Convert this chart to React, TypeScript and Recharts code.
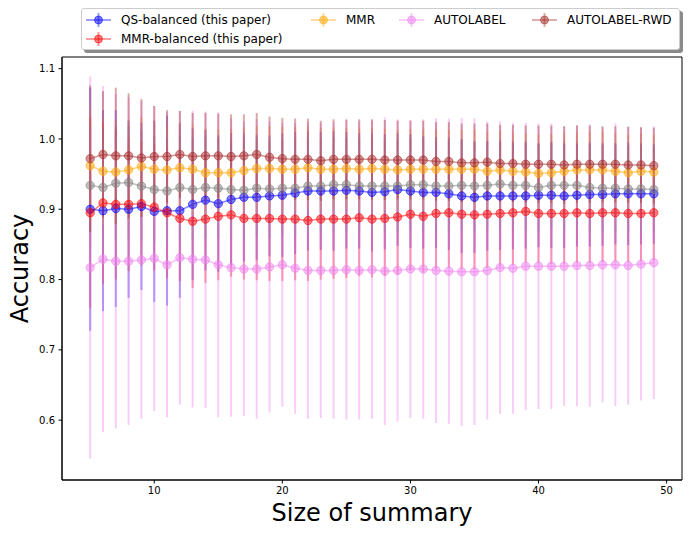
import React from "react";
import { LineChart, Line, XAxis, YAxis, ErrorBar, ReferenceArea, Label } from "recharts";

// summary sizes on the x axis
const sizes = [5, 6, 7, 8, 9, 10, 11, 12, 13, 14, 15, 16, 17, 18, 19, 20, 21, 22, 23, 24, 25, 26, 27, 28, 29, 30, 31, 32, 33, 34, 35, 36, 37, 38, 39, 40, 41, 42, 43, 44, 45, 46, 47, 48, 49];

const qsBalanced = [0.900, 0.898, 0.901, 0.900, 0.904, 0.897, 0.898, 0.898, 0.907, 0.913, 0.908, 0.914, 0.917, 0.917, 0.919, 0.920, 0.923, 0.926, 0.926, 0.926, 0.927, 0.926, 0.924, 0.925, 0.928, 0.926, 0.924, 0.924, 0.922, 0.919, 0.917, 0.919, 0.919, 0.919, 0.919, 0.920, 0.920, 0.919, 0.920, 0.921, 0.921, 0.922, 0.922, 0.922, 0.922];
const qsBalancedErr = [0.173, 0.143, 0.140, 0.126, 0.119, 0.129, 0.135, 0.124, 0.108, 0.100, 0.097, 0.094, 0.091, 0.089, 0.086, 0.088, 0.087, 0.085, 0.084, 0.085, 0.083, 0.082, 0.084, 0.082, 0.080, 0.081, 0.080, 0.079, 0.080, 0.081, 0.079, 0.078, 0.077, 0.076, 0.075, 0.074, 0.075, 0.074, 0.073, 0.074, 0.073, 0.072, 0.073, 0.072, 0.071];

const mmrBalanced = [0.895, 0.909, 0.907, 0.907, 0.908, 0.903, 0.895, 0.887, 0.883, 0.886, 0.890, 0.892, 0.887, 0.887, 0.887, 0.886, 0.886, 0.884, 0.886, 0.886, 0.886, 0.888, 0.886, 0.887, 0.889, 0.893, 0.890, 0.894, 0.895, 0.893, 0.892, 0.893, 0.894, 0.895, 0.897, 0.894, 0.894, 0.894, 0.895, 0.894, 0.895, 0.895, 0.894, 0.894, 0.895];
const mmrBalancedErr = [0.136, 0.115, 0.107, 0.095, 0.088, 0.090, 0.093, 0.089, 0.095, 0.091, 0.091, 0.088, 0.087, 0.088, 0.089, 0.088, 0.087, 0.086, 0.086, 0.085, 0.084, 0.083, 0.083, 0.082, 0.081, 0.080, 0.080, 0.079, 0.078, 0.078, 0.077, 0.076, 0.075, 0.074, 0.073, 0.071, 0.072, 0.071, 0.071, 0.070, 0.070, 0.069, 0.069, 0.068, 0.068];

const mmr = [0.962, 0.954, 0.953, 0.956, 0.961, 0.957, 0.956, 0.959, 0.957, 0.952, 0.952, 0.952, 0.955, 0.958, 0.958, 0.957, 0.957, 0.959, 0.957, 0.957, 0.958, 0.957, 0.958, 0.957, 0.956, 0.957, 0.957, 0.957, 0.957, 0.957, 0.957, 0.954, 0.956, 0.954, 0.953, 0.951, 0.952, 0.954, 0.956, 0.956, 0.956, 0.954, 0.952, 0.954, 0.953];
const mmrErr = [0.080, 0.076, 0.074, 0.072, 0.070, 0.068, 0.066, 0.065, 0.064, 0.063, 0.062, 0.062, 0.061, 0.061, 0.060, 0.060, 0.060, 0.059, 0.059, 0.059, 0.058, 0.058, 0.058, 0.058, 0.057, 0.057, 0.057, 0.057, 0.056, 0.056, 0.056, 0.056, 0.056, 0.055, 0.055, 0.055, 0.055, 0.055, 0.054, 0.054, 0.054, 0.054, 0.054, 0.054, 0.053];

const unlabelled = [0.934, 0.931, 0.937, 0.938, 0.933, 0.928, 0.926, 0.931, 0.928, 0.931, 0.930, 0.928, 0.927, 0.930, 0.929, 0.930, 0.930, 0.933, 0.933, 0.935, 0.935, 0.933, 0.933, 0.933, 0.933, 0.935, 0.935, 0.933, 0.933, 0.934, 0.933, 0.934, 0.936, 0.934, 0.934, 0.931, 0.934, 0.934, 0.934, 0.931, 0.930, 0.930, 0.929, 0.929, 0.928];
const unlabelledErr = [0.090, 0.085, 0.082, 0.080, 0.078, 0.076, 0.075, 0.074, 0.073, 0.072, 0.071, 0.070, 0.070, 0.069, 0.069, 0.068, 0.068, 0.067, 0.067, 0.067, 0.066, 0.066, 0.066, 0.065, 0.065, 0.065, 0.065, 0.064, 0.064, 0.064, 0.064, 0.063, 0.063, 0.063, 0.063, 0.062, 0.062, 0.062, 0.062, 0.062, 0.061, 0.061, 0.061, 0.061, 0.060];

const autolabel = [0.817, 0.829, 0.826, 0.826, 0.828, 0.830, 0.821, 0.831, 0.829, 0.828, 0.821, 0.817, 0.815, 0.815, 0.818, 0.821, 0.816, 0.813, 0.813, 0.813, 0.814, 0.813, 0.814, 0.812, 0.813, 0.815, 0.815, 0.813, 0.812, 0.811, 0.811, 0.813, 0.817, 0.816, 0.819, 0.819, 0.819, 0.819, 0.820, 0.820, 0.821, 0.821, 0.820, 0.822, 0.824];
const autolabelErr = [0.272, 0.246, 0.238, 0.233, 0.226, 0.217, 0.217, 0.209, 0.211, 0.211, 0.217, 0.212, 0.209, 0.213, 0.207, 0.202, 0.207, 0.211, 0.210, 0.211, 0.213, 0.212, 0.212, 0.219, 0.215, 0.212, 0.213, 0.217, 0.217, 0.219, 0.218, 0.212, 0.208, 0.207, 0.204, 0.203, 0.203, 0.199, 0.200, 0.201, 0.196, 0.201, 0.198, 0.194, 0.194];

const autolabelRwd = [0.972, 0.978, 0.976, 0.976, 0.973, 0.975, 0.975, 0.978, 0.975, 0.976, 0.976, 0.975, 0.976, 0.978, 0.974, 0.972, 0.971, 0.971, 0.969, 0.971, 0.971, 0.971, 0.971, 0.970, 0.970, 0.970, 0.970, 0.968, 0.968, 0.966, 0.966, 0.967, 0.965, 0.965, 0.964, 0.964, 0.964, 0.963, 0.964, 0.964, 0.964, 0.964, 0.963, 0.963, 0.962];
const autolabelRwdErr = [0.104, 0.090, 0.097, 0.089, 0.084, 0.072, 0.066, 0.062, 0.062, 0.061, 0.060, 0.060, 0.059, 0.059, 0.058, 0.058, 0.058, 0.058, 0.057, 0.057, 0.057, 0.057, 0.057, 0.057, 0.056, 0.056, 0.056, 0.056, 0.056, 0.056, 0.056, 0.055, 0.055, 0.055, 0.055, 0.055, 0.055, 0.055, 0.055, 0.055, 0.054, 0.054, 0.054, 0.054, 0.054];

const xTicks = [10, 20, 30, 40, 50];
const yTicks = [0.6, 0.7, 0.8, 0.9, 1.0, 1.1];

// drawing order follows the original plot calls
const series = [
  { key: "qs", name: "QS-balanced (this paper)", color: "#0000ff", rgb: "0,0,255", values: qsBalanced, errors: qsBalancedErr },
  { key: "mmrb", name: "MMR-balanced (this paper)", color: "#ff0000", rgb: "255,0,0", values: mmrBalanced, errors: mmrBalancedErr },
  { key: "mmr", name: "MMR", color: "#ffa500", rgb: "255,165,0", values: mmr, errors: mmrErr },
  { key: "grey", name: "", color: "#808080", rgb: "128,128,128", values: unlabelled, errors: unlabelledErr },
  { key: "auto", name: "AUTOLABEL", color: "#ee82ee", rgb: "238,130,238", values: autolabel, errors: autolabelErr },
  { key: "rwd", name: "AUTOLABEL-RWD", color: "#a52a2a", rgb: "165,42,42", values: autolabelRwd, errors: autolabelRwdErr },
];

const data = sizes.map((x, i) => {
  const row: Record<string, number> = { x };
  series.forEach((s) => {
    row[s.key] = s.values[i];
    row[s.key + "Err"] = s.errors[i];
  });
  return row;
});

const Y_MIN = 0.5149;
const Y_MAX = 1.1166;
const FONT = "'DejaVu Sans', sans-serif";

function YTitle(props: any) {
  const vb = props.viewBox || { x: 0, y: 57, width: 62, height: 423 };
  const cx = vb.x + 20;
  const cy = vb.y + vb.height / 2;
  return (
    <text x={cx} y={cy} transform={`rotate(-90 ${cx} ${cy})`} textAnchor="middle" dominantBaseline="central" fontSize={24} fill="#000">
      Accuracy
    </text>
  );
}

function Handle({ color, rgb }: { color: string; rgb: string }) {
  return (
    <svg width={25} height={16} style={{ display: "block" }}>
      <line x1={0} y1={8} x2={25} y2={8} stroke={color} strokeOpacity={0.5} strokeWidth={1.5} />
      <line x1={12.5} y1={1} x2={12.5} y2={15} stroke={`rgba(${rgb},0.4)`} strokeWidth={2} />
      <circle cx={12.5} cy={8} r={4} fill={color} fillOpacity={0.5} stroke={color} strokeOpacity={0.5} />
    </svg>
  );
}

const legendSlots = [
  { key: "qs", left: 4, top: 10.5 },
  { key: "mmrb", left: 4, top: 29.5 },
  { key: "mmr", left: 229, top: 10.5 },
  { key: "auto", left: 317, top: 10.5 },
  { key: "rwd", left: 450, top: 10.5 },
];

function LegendBox() {
  return (
    <div
      style={{
        position: "absolute",
        left: 81,
        top: 8,
        width: 597,
        height: 40,
        background: "#fff",
        border: "1px solid #cccccc",
        borderRadius: 3,
        boxShadow: "3px 3px 0 #8a8a8a",
        fontFamily: FONT,
        fontSize: 12,
        color: "#000",
      }}
    >
      {legendSlots.map((slot) => {
        const s = series.find((d) => d.key === slot.key)!;
        return (
          <div
            key={slot.key}
            style={{ position: "absolute", left: slot.left, top: slot.top - 8, height: 16, display: "flex", alignItems: "center", whiteSpace: "nowrap" }}
          >
            <Handle color={s.color} rgb={s.rgb} />
            <span style={{ marginLeft: 10 }}>{s.name}</span>
          </div>
        );
      })}
    </div>
  );
}

export default function App() {
  return (
    <div style={{ position: "absolute", left: 0, top: 0, width: 693, height: 533, background: "#fff", fontFamily: FONT }}>
      <LineChart width={693} height={533} data={data} margin={{ top: 57, right: 11, bottom: 0, left: 0 }}>
        <XAxis
          dataKey="x"
          type="number"
          domain={[2.8, 51.2]}
          ticks={xTicks}
          allowDataOverflow
          height={53}
          tickSize={3.5}
          tickMargin={3.5}
          stroke="#000"
          tick={{ fontSize: 10, fill: "#000" }}
        >
          <Label value="Size of summary" position="insideBottom" offset={12} fontSize={24} fill="#000" />
        </XAxis>
        <YAxis
          type="number"
          domain={[Y_MIN, Y_MAX]}
          ticks={yTicks}
          allowDataOverflow
          width={62}
          tickSize={3.5}
          tickMargin={3.5}
          stroke="#000"
          tick={{ fontSize: 10, fill: "#000" }}
          tickFormatter={(v: number) => v.toFixed(1)}
        >
          <Label content={<YTitle />} />
        </YAxis>
        {series.map((s) => (
          <Line
            key={s.key}
            dataKey={s.key}
            name={s.name}
            type="linear"
            stroke={s.color}
            strokeOpacity={0.5}
            strokeWidth={1.5}
            dot={{ r: 4.2, fill: s.color, fillOpacity: 0.5, stroke: s.color, strokeOpacity: 0.55, strokeWidth: 1 }}
            activeDot={false}
            isAnimationActive={false}
          >
            <ErrorBar dataKey={s.key + "Err"} width={0} strokeWidth={2} stroke={`rgba(${s.rgb},0.4)`} direction="y" isAnimationActive={false} />
          </Line>
        ))}
        <ReferenceArea x1={2.8} x2={51.2} y1={Y_MIN} y2={Y_MAX} fill="none" stroke="#000" strokeWidth={1} ifOverflow="visible" />
      </LineChart>
      <LegendBox />
    </div>
  );
}
